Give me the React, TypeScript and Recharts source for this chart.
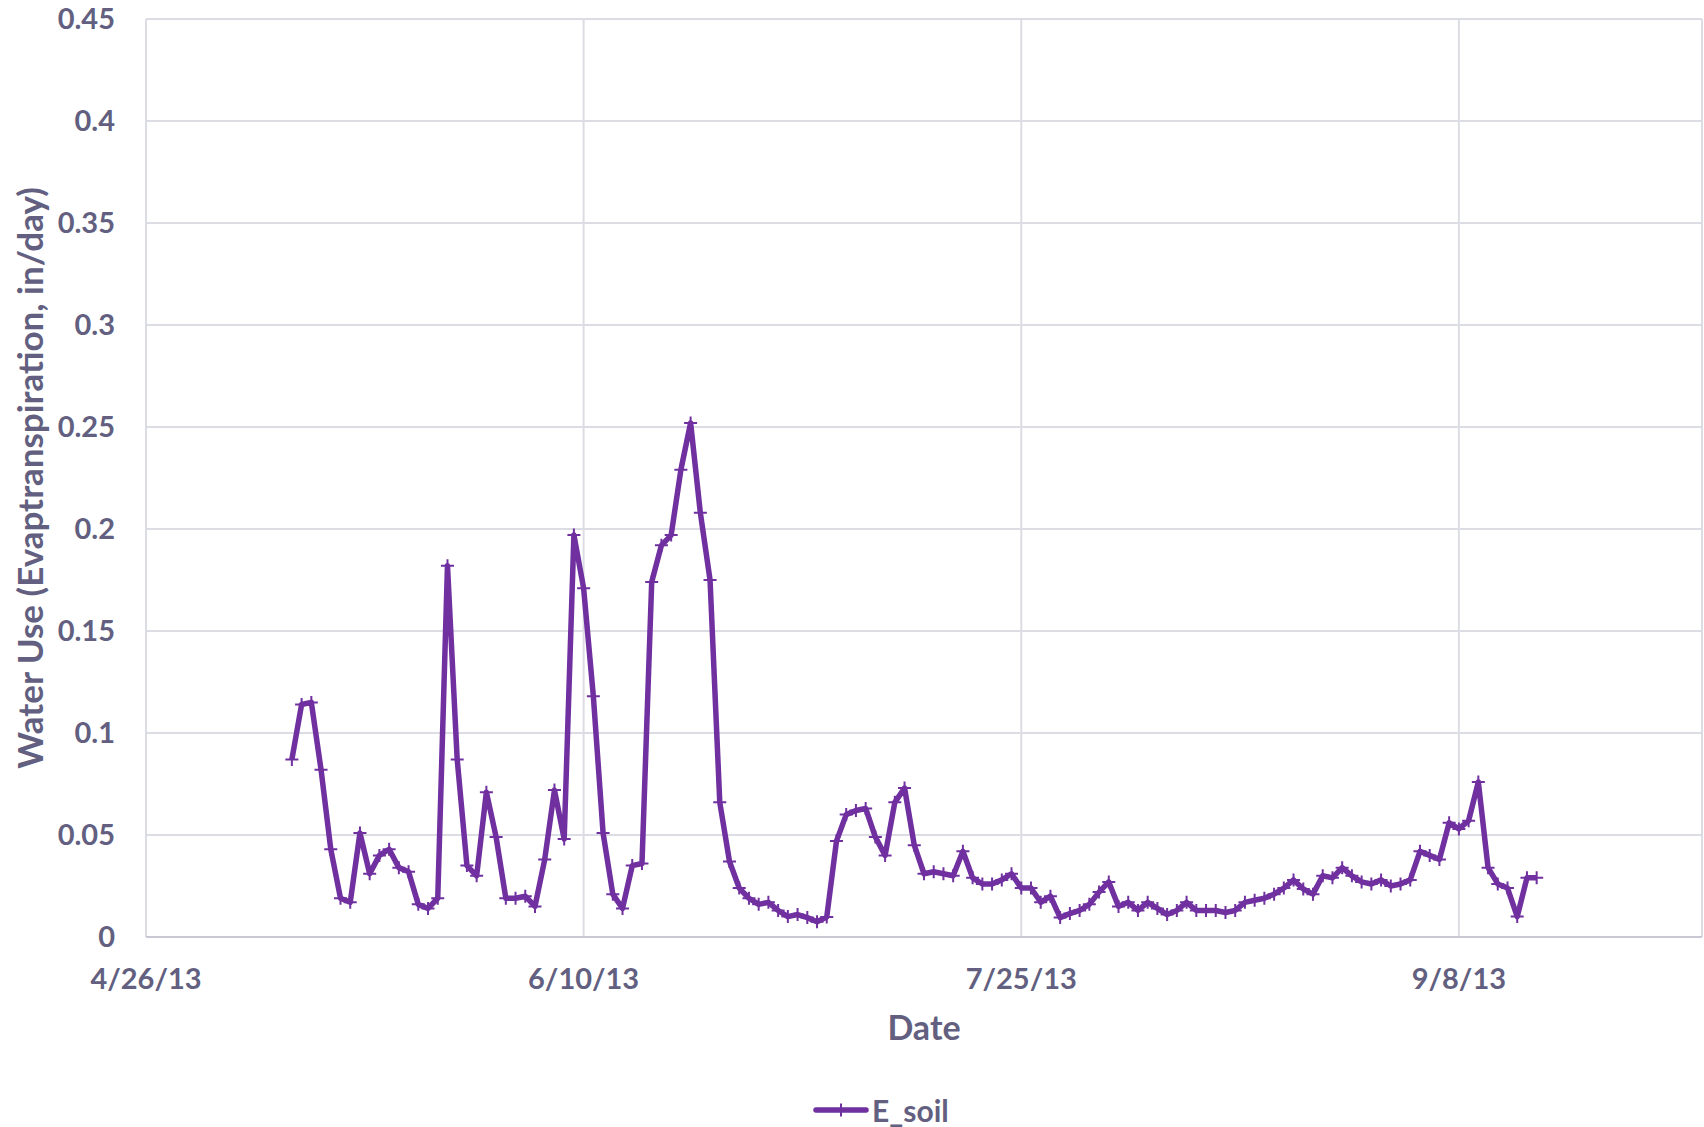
import { CartesianGrid, Legend, Line, LineChart, XAxis, YAxis } from "recharts"

// days counted from 4/26/13; first reading on 5/11/13
const startDay = 15

const eSoil = [
  0.087, 0.114, 0.115, 0.082, 0.043, 0.019, 0.017, 0.051, 0.031, 0.04,
  0.043, 0.034, 0.032, 0.016, 0.014, 0.019, 0.182, 0.087, 0.035, 0.03,
  0.071, 0.049, 0.019, 0.019, 0.02, 0.015, 0.038, 0.072, 0.048, 0.197,
  0.171, 0.118, 0.051, 0.021, 0.014, 0.035, 0.036, 0.174, 0.192, 0.197,
  0.229, 0.252, 0.208, 0.175, 0.066, 0.037, 0.024, 0.019, 0.016, 0.017,
  0.013, 0.01, 0.011, 0.0095, 0.0075, 0.0098, 0.047, 0.06, 0.062, 0.063,
  0.049, 0.04, 0.066, 0.073, 0.045, 0.031, 0.032, 0.031, 0.03, 0.042,
  0.029, 0.026, 0.026, 0.028, 0.031, 0.024, 0.024, 0.017, 0.02, 0.0095,
  0.0115, 0.013, 0.016, 0.022, 0.027, 0.015, 0.017, 0.013, 0.017, 0.014,
  0.011, 0.013, 0.017, 0.013, 0.013, 0.013, 0.012, 0.013, 0.017, 0.018,
  0.019, 0.021, 0.024, 0.028, 0.0235, 0.021, 0.03, 0.029, 0.034, 0.03,
  0.027, 0.026, 0.028, 0.025, 0.026, 0.028, 0.042, 0.04, 0.038, 0.056,
  0.053, 0.057, 0.076, 0.034, 0.026, 0.024, 0.01, 0.029, 0.029,
]

const tickDays = [0, 45, 90, 135]
const tickLabels = ["4/26/13", "6/10/13", "7/25/13", "9/8/13"]
const yTicks = [0, 0.05, 0.1, 0.15, 0.2, 0.25, 0.3, 0.35, 0.4, 0.45]

const data = eSoil.map((v, i) => ({ day: startDay + i, E_soil: v }))

const purple = "#7030a0"
const textColor = "#625f80"
const font = "Lato, 'Open Sans', sans-serif"

const Cross = (props: any) => {
  const { cx, cy, index } = props
  if (cx == null || cy == null) return null
  return (
    <path
      key={index}
      d={`M${cx - 6.5},${cy}H${cx + 6.5}M${cx},${cy - 6.5}V${cy + 6.5}`}
      stroke={purple}
      strokeWidth={2}
      fill="none"
    />
  )
}

const LegendContent = () => (
  <div style={{ display: "flex", alignItems: "center", fontFamily: font, fontWeight: 700, fontSize: 30, color: textColor }}>
    <svg width={56} height={20}>
      <line x1={3} y1={10} x2={53} y2={10} stroke={purple} strokeWidth={5.5} strokeLinecap="round" />
      <path d="M28,3.5V16.5M21.5,10H34.5" stroke={purple} strokeWidth={2} />
    </svg>
    <span style={{ marginLeft: 3 }}>E_soil</span>
  </div>
)

export default function App() {
  return (
    <div style={{ position: "absolute", left: 0, top: 0 }}>
      <LineChart width={1704} height={1127} data={data} margin={{ top: 19, right: 2, bottom: 0, left: 0 }}>
        <CartesianGrid stroke="#dcdce4" strokeWidth={2} />
        <XAxis
          dataKey="day"
          type="number"
          domain={[0, 160]}
          ticks={tickDays}
          tickFormatter={(d) => tickLabels[tickDays.indexOf(d)] ?? ""}
          height={190}
          tickLine={false}
          tickSize={0}
          tickMargin={31}
          axisLine={{ stroke: "#c9c8d4", strokeWidth: 2 }}
          tick={{ fill: textColor, fontFamily: font, fontWeight: 700, fontSize: 29 }}
          label={{
            value: "Date",
            position: "insideBottom",
            offset: 87,
            style: { fill: textColor, fontFamily: font, fontWeight: 700, fontSize: 34 },
          }}
        />
        <YAxis
          type="number"
          domain={[0, 0.45]}
          ticks={yTicks}
          width={146}
          tickLine={false}
          tickSize={0}
          tickMargin={31}
          axisLine={false}
          tick={{ fill: textColor, fontFamily: font, fontWeight: 700, fontSize: 29 }}
          label={{
            value: "Water Use (Evaptranspiration, in/day)",
            angle: -90,
            position: "insideLeft",
            offset: 31,
            style: { textAnchor: "middle", fill: textColor, fontFamily: font, fontWeight: 700, fontSize: 35 },
          }}
        />
        <Legend
          verticalAlign="middle"
          align="center"
          content={<LegendContent />}
          wrapperStyle={{ left: 813, top: 1092, width: 220 }}
        />
        <Line
          type="linear"
          dataKey="E_soil"
          stroke={purple}
          strokeWidth={5.5}
          strokeLinejoin="round"
          dot={Cross}
          activeDot={false}
          isAnimationActive={false}
        />
      </LineChart>
    </div>
  )
}
